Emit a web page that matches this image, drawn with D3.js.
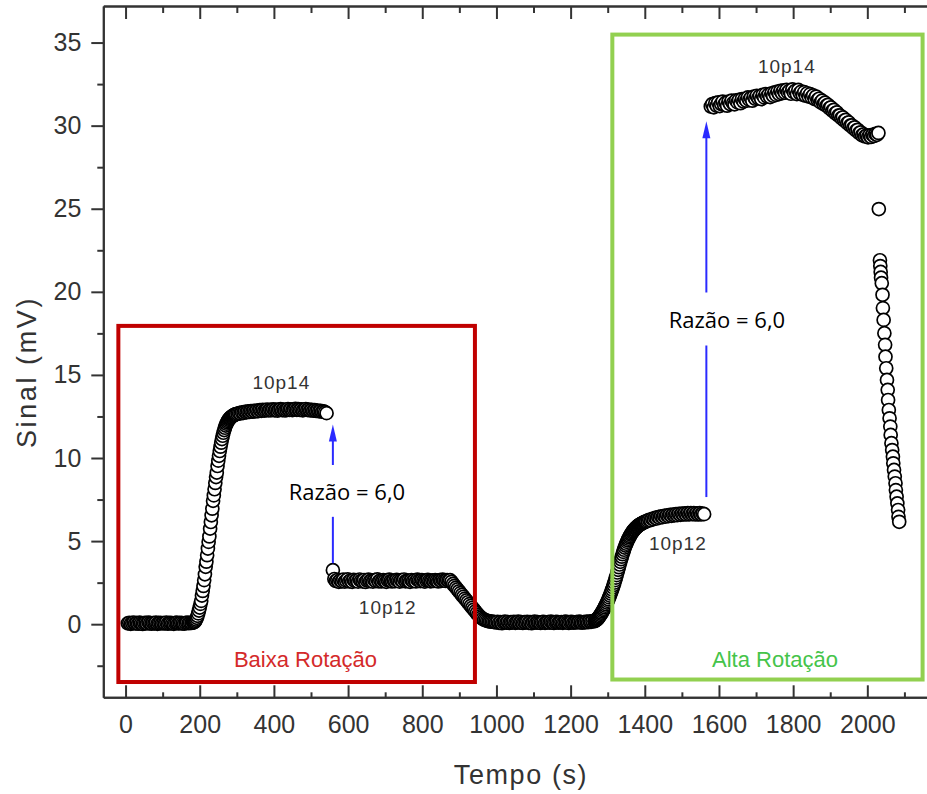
<!DOCTYPE html>
<html><head><meta charset="utf-8">
<script src="https://cdn.jsdelivr.net/npm/d3@7/dist/d3.min.js"></script>
<style>body{margin:0;background:#fff;}svg{display:block;} text{font-family:'Liberation Sans', Arial, sans-serif;}</style>
</head><body><svg id="chart" width="927" height="794"></svg>
<script>
// ---------- data (tempo [s], sinal [mV]) ----------
const baseline1 = [[6,.05],[10,.08],[14,.02],[18,.06],[22,.1],[26,.04],[30,.07],[34,.03],[38,.09],[42,.05],[46,.01],[50,.06],[54,.08],[58,.04],[62,.1],[66,.06],[70,.03],[74,.07],[78,.05],[82,.09],[86,.02],[90,.06],[94,.08],[98,.04],[102,.07],[106,.05],[110,.1],[114,.03],[118,.06],[122,.08],[126,.05],[130,.02],[134,.07],[138,.09],[142,.04],[146,.06],[150,.08],[154,.05],[158,.03],[162,.07],[166,.1],[170,.06],[174,.08],[178,.07],[182,.1]];
const rise1 = [[184,.11],[186,.14],[188,.2],[190,.28],[192,.38],[194,.5],[196,.65],[198,.82],[200,1.0],[202,1.22],[204,1.4],[206,1.72],[208,2.0],[210,2.3],[212,2.65],[214,3.0],[216,3.45],[218,3.76],[220,4.15],[222,4.55],[224,4.95],[226,5.28],[228,5.75],[230,6.15],[232,6.55],[234,6.95],[236,7.42],[238,7.75],[240,8.12],[242,8.5],[244,8.85],[246,9.12],[248,9.52],[250,9.84],[252,10.13],[254,10.42],[256,10.68],[258,10.92],[260,11.14],[262,11.34],[264,11.52],[266,11.68],[268,11.82],[270,11.95],[272,12.06],[274,12.15],[276,12.23],[278,12.3],[280,12.36],[282,12.41],[284,12.45],[286,12.49],[288,12.52],[290,12.55],[292,12.58],[294,12.6],[296,12.62],[298,12.64]];
const plateau14a = [[302,12.66],[306,12.7],[310,12.68],[314,12.74],[318,12.72],[322,12.78],[326,12.75],[330,12.8],[334,12.77],[338,12.82],[342,12.79],[346,12.84],[350,12.8],[354,12.86],[358,12.82],[362,12.88],[366,12.84],[370,12.9],[374,12.85],[378,12.88],[382,12.92],[386,12.86],[390,12.9],[394,12.88],[398,12.93],[402,12.87],[406,12.91],[410,12.85],[414,12.9],[418,12.94],[422,12.88],[426,12.92],[430,12.86],[434,12.9],[438,12.95],[442,12.89],[446,12.93],[450,12.88],[454,12.92],[458,12.96],[462,12.9],[466,12.94],[470,12.89],[474,12.93],[478,12.87],[482,12.91],[486,12.95],[490,12.89],[494,12.92],[498,12.86],[502,12.9],[506,12.85],[510,12.88],[514,12.83],[518,12.86],[522,12.81],[526,12.84],[530,12.79],[534,12.8],[538,12.76],[542,12.7]];
const plateau12a = [[559,3.25],[563,2.72],[567,2.6],[571,2.66],[575,2.55],[579,2.64],[583,2.58],[587,2.68],[591,2.56],[595,2.62],[599,2.7],[603,2.57],[607,2.63],[611,2.55],[615,2.67],[619,2.6],[623,2.64],[627,2.56],[631,2.69],[635,2.61],[639,2.58],[643,2.66],[647,2.54],[651,2.63],[655,2.68],[659,2.59],[663,2.62],[667,2.56],[671,2.65],[675,2.6],[679,2.7],[683,2.57],[687,2.63],[691,2.58],[695,2.66],[699,2.61],[703,2.55],[707,2.64],[711,2.68],[715,2.6],[719,2.57],[723,2.63],[727,2.59],[731,2.67],[735,2.62],[739,2.56],[743,2.65],[747,2.6],[751,2.69],[755,2.58],[759,2.63],[763,2.61],[767,2.55],[771,2.66],[775,2.6],[779,2.64],[783,2.57],[787,2.68],[791,2.62],[795,2.59],[799,2.65],[803,2.6],[807,2.56],[811,2.63],[815,2.67],[819,2.61],[823,2.58],[827,2.64],[831,2.6],[835,2.66],[839,2.62],[843,2.57],[847,2.65],[851,2.61],[855,2.68],[859,2.63],[863,2.6],[867,2.66],[871,2.62],[875,2.65]];
const fall1 = [[879,2.55],[883,2.42],[887,2.31],[891,2.2],[895,2.09],[899,1.98],[903,1.87],[907,1.76],[911,1.65],[915,1.54],[919,1.43],[923,1.32],[927,1.21],[931,1.1],[935,.99],[939,.88],[943,.77],[947,.66],[951,.56],[955,.47],[959,.39],[963,.32],[967,.27],[971,.23],[975,.2],[979,.18],[983,.16],[987,.15],[991,.14],[995,.13]];
const baseline2 = [[999,.1],[1003,.14],[1007,.08],[1011,.12],[1015,.06],[1019,.11],[1023,.15],[1027,.09],[1031,.13],[1035,.07],[1039,.12],[1043,.1],[1047,.14],[1051,.08],[1055,.11],[1059,.15],[1063,.09],[1067,.13],[1071,.07],[1075,.12],[1079,.1],[1083,.14],[1087,.08],[1091,.12],[1095,.06],[1099,.11],[1103,.15],[1107,.09],[1111,.13],[1115,.1],[1119,.07],[1123,.12],[1127,.14],[1131,.08],[1135,.11],[1139,.13],[1143,.09],[1147,.15],[1151,.1],[1155,.07],[1159,.12],[1163,.14],[1167,.09],[1171,.11],[1175,.13],[1179,.08],[1183,.12],[1187,.15],[1191,.1],[1195,.07],[1199,.12],[1203,.14],[1207,.09],[1211,.11],[1215,.13],[1219,.1],[1223,.15],[1227,.12],[1231,.09],[1235,.13],[1239,.11],[1243,.15],[1247,.12],[1251,.16],[1255,.14],[1259,.18]];
const rise2 = [[1264,.18],[1266,.2],[1268,.23],[1270,.27],[1272,.31],[1274,.36],[1276,.42],[1278,.48],[1280,.55],[1282,.62],[1284,.69],[1286,.77],[1288,.85],[1290,.93],[1292,1.02],[1294,1.11],[1296,1.2],[1298,1.3],[1300,1.4],[1302,1.5],[1304,1.61],[1306,1.72],[1308,1.84],[1310,1.96],[1312,2.09],[1314,2.22],[1316,2.36],[1318,2.5],[1320,2.65],[1322,2.8],[1324,2.95],[1326,3.11],[1328,3.27],[1330,3.43],[1332,3.59],[1334,3.75],[1336,3.91],[1338,4.06],[1340,4.21],[1342,4.35],[1344,4.48],[1346,4.61],[1348,4.73],[1350,4.84],[1352,4.95],[1354,5.05],[1356,5.14],[1358,5.23],[1360,5.31],[1362,5.39],[1364,5.46],[1366,5.53],[1368,5.59],[1370,5.65],[1372,5.7],[1374,5.75],[1376,5.8],[1378,5.84],[1380,5.88],[1382,5.92],[1384,5.95],[1386,5.98],[1388,6.01],[1390,6.04],[1392,6.06],[1394,6.09],[1396,6.11],[1398,6.13],[1400,6.15],[1402,6.17],[1404,6.19]];
const plateau12b = [[1408,6.23],[1412,6.28],[1416,6.26],[1420,6.34],[1424,6.32],[1428,6.4],[1432,6.36],[1436,6.45],[1440,6.41],[1444,6.49],[1448,6.44],[1452,6.52],[1456,6.47],[1460,6.55],[1464,6.5],[1468,6.58],[1472,6.52],[1476,6.6],[1480,6.55],[1484,6.62],[1488,6.56],[1492,6.64],[1496,6.58],[1500,6.66],[1504,6.6],[1508,6.67],[1512,6.6],[1516,6.68],[1520,6.61],[1524,6.69],[1528,6.62],[1532,6.68],[1536,6.6],[1540,6.67],[1544,6.61],[1548,6.68],[1552,6.6],[1556,6.66],[1560,6.62]];
const plateau14b = [[1578,31.15],[1582,31.3],[1586,31.1],[1590,31.35],[1594,31.2],[1598,31.4],[1602,31.18],[1606,31.3],[1610,31.45],[1614,31.25],[1618,31.38],[1622,31.2],[1626,31.45],[1630,31.3],[1634,31.5],[1638,31.35],[1642,31.28],[1646,31.52],[1650,31.4],[1654,31.55],[1658,31.35],[1662,31.6],[1666,31.45],[1670,31.62],[1674,31.5],[1678,31.7],[1682,31.55],[1686,31.68],[1690,31.5],[1694,31.75],[1698,31.62],[1702,31.8],[1706,31.65],[1710,31.78],[1714,31.6],[1718,31.85],[1722,31.7],[1726,31.9],[1730,31.75],[1734,31.88],[1738,31.72],[1742,31.95],[1746,31.8],[1750,32.0],[1754,31.85],[1758,32.05],[1762,31.9],[1766,32.1],[1770,31.95],[1774,32.12],[1778,31.98],[1782,32.15],[1786,32.0],[1790,32.1],[1794,31.92],[1798,32.18],[1802,32.0],[1806,32.1],[1810,31.9],[1814,32.15],[1818,31.95],[1822,32.05],[1826,31.85],[1830,32.02],[1834,31.8],[1838,31.95],[1842,31.75],[1846,31.9],[1850,31.7],[1854,31.82],[1858,31.6],[1862,31.75],[1866,31.55],[1870,31.62],[1874,31.4],[1878,31.5],[1882,31.3],[1886,31.38],[1890,31.2],[1894,31.25],[1898,31.05],[1902,31.1],[1906,30.9],[1910,30.95],[1914,30.75],[1918,30.8],[1922,30.6],[1926,30.62],[1930,30.45],[1934,30.5],[1938,30.3],[1942,30.35],[1946,30.15],[1950,30.2],[1954,30.0],[1958,30.02],[1962,29.85],[1966,29.9],[1970,29.7],[1974,29.75],[1978,29.55],[1982,29.6],[1986,29.42],[1990,29.48],[1994,29.35],[1998,29.4],[2002,29.3],[2006,29.42],[2010,29.32],[2014,29.45],[2018,29.38],[2022,29.5],[2026,29.45],[2030,29.56]];
const tail = [[2031,24.98],[2034,21.9],[2035,21.55],[2036,21.2],[2037,20.85],[2039,20.52],[2041,19.82],[2042,19.02],[2044,18.31],[2046,17.51],[2048,16.81],[2049,16.1],[2051,15.4],[2053,14.7],[2055,14.1],[2056,13.49],[2058,12.89],[2060,12.39],[2062,11.89],[2063,11.39],[2065,10.89],[2067,10.48],[2069,10.08],[2070,9.68],[2072,9.28],[2074,8.88],[2076,8.48],[2077,8.07],[2079,7.67],[2081,7.27],[2083,6.87],[2084,6.46],[2086,6.16]];

const xMajorTicks = [0,200,400,600,800,1000,1200,1400,1600,1800,2000];
const xMinorTicks = [100,300,500,700,900,1100,1300,1500,1700,1900,2100];
const yMajorTicks = [0,5,10,15,20,25,30,35];
const yMinorTicks = [-2.5,2.5,7.5,12.5,17.5,22.5,27.5,32.5];
const xTitle = "Tempo (s)";
const yTitle = "Sinal (mV)";

// annotations (data coordinates)
const sampleLabels = [
  {text:"10p14", t:420, v:14.14},
  {text:"10p12", t:707, v:0.64},
  {text:"10p12", t:1489, v:4.46},
  {text:"10p14", t:1783, v:33.17}
];
const ratioArrows = [
  {t:559, from:3.67, to:12.02, gapLow:6.46, gapHigh:9.58, label:"Razão = 6,0", lt:597, lv:7.47},
  {t:1566, from:7.65, to:30.26, gapLow:16.77, gapHigh:19.96, label:"Razão = 6,0", lt:1621.5, lv:17.83}
];
const regions = [
  {label:"Baixa Rotação", t0:-19.4, t1:942, v0:-3.48, v1:17.95, lt:485, lv:-2.6, color:"#c00000", text:"#d42a2a"},
  {label:"Alta Rotação", t0:1312.5, t1:2149, v0:-3.33, v1:35.48, lt:1751, lv:-2.6, color:"#92d050", text:"#45c44a"}
];

// ---------- drawing ----------
const svg = d3.select("#chart");
const x = d3.scaleLinear().domain([-60, 2200]).range([103.3, 941.5]);
const y = d3.scaleLinear().domain([-4.4, 37.2]).range([697.3, 6]);
const axisColor = "#333";

const data = [].concat(baseline1, rise1, plateau14a, plateau12a, fall1, baseline2, rise2, plateau12b, plateau14b, tail);

// points
svg.append("g").selectAll("circle").data(data).join("circle")
  .attr("cx", d => x(d[0])).attr("cy", d => y(d[1])).attr("r", 6.5)
  .attr("fill", "#fff").attr("stroke", "#000").attr("stroke-width", 1.7);

function styleAxis(g) {
  g.selectAll("path").attr("stroke", axisColor).attr("stroke-width", 2);
  g.selectAll("line").attr("stroke", axisColor).attr("stroke-width", 2);
  g.selectAll("text").attr("fill", "#333").attr("font-family", null).attr("font-size", 25);
}

// bottom axis
const gb = svg.append("g").attr("transform", `translate(0,${y(-4.4)})`)
  .call(d3.axisBottom(x).tickValues(xMajorTicks).tickSize(-12).tickSizeOuter(0).tickPadding(18).tickFormat(d3.format("d")));
gb.attr("font-family", null);
styleAxis(gb);
const gbm = svg.append("g").attr("transform", `translate(0,${y(-4.4)})`)
  .call(d3.axisBottom(x).tickValues(xMinorTicks).tickSize(-5).tickSizeOuter(0).tickFormat(""));
styleAxis(gbm);
// top axis
const gt = svg.append("g").attr("transform", `translate(0,${y(37.2)})`)
  .call(d3.axisTop(x).tickValues(xMajorTicks).tickSize(-13).tickSizeOuter(0).tickFormat(""));
styleAxis(gt);
const gtm = svg.append("g").attr("transform", `translate(0,${y(37.2)})`)
  .call(d3.axisTop(x).tickValues(xMinorTicks).tickSize(-7).tickSizeOuter(0).tickFormat(""));
styleAxis(gtm);
// left axis
const gl = svg.append("g").attr("transform", `translate(${x(-60)},0)`)
  .call(d3.axisLeft(y).tickValues(yMajorTicks).tickSize(12).tickSizeOuter(0).tickPadding(10).tickFormat(d3.format("d")));
gl.attr("font-family", null);
styleAxis(gl);
const glm = svg.append("g").attr("transform", `translate(${x(-60)},0)`)
  .call(d3.axisLeft(y).tickValues(yMinorTicks).tickSize(6).tickSizeOuter(0).tickFormat(""));
styleAxis(glm);
// right frame (outside visible area)
svg.append("line").attr("x1", x(2200)).attr("x2", x(2200)).attr("y1", y(37.2)).attr("y2", y(-4.4))
  .attr("stroke", axisColor).attr("stroke-width", 2);

// axis titles
svg.append("text").attr("x", 521).attr("y", 784).attr("text-anchor", "middle")
  .attr("font-size", 27).attr("letter-spacing", 1.6).attr("fill", "#333").text(xTitle);
svg.append("text").attr("transform", "translate(36,372) rotate(-90)").attr("text-anchor", "middle")
  .attr("font-size", 27).attr("letter-spacing", 2.6).attr("fill", "#333").text(yTitle);

// region boxes
regions.forEach(r => {
  svg.append("rect").attr("x", x(r.t0)).attr("y", y(r.v1))
    .attr("width", x(r.t1) - x(r.t0)).attr("height", y(r.v0) - y(r.v1))
    .attr("fill", "none").attr("stroke", r.color).attr("stroke-width", 4);
  svg.append("text").attr("x", x(r.lt)).attr("y", y(r.lv)).attr("text-anchor", "middle")
    .attr("font-size", 22).attr("fill", r.text).text(r.label);
});

// ratio arrows
const blue = "#2a2aff";
ratioArrows.forEach(a => {
  const ax = x(a.t);
  svg.append("line").attr("x1", ax).attr("x2", ax).attr("y1", y(a.from)).attr("y2", y(a.gapLow))
    .attr("stroke", blue).attr("stroke-width", 2);
  svg.append("line").attr("x1", ax).attr("x2", ax).attr("y1", y(a.gapHigh)).attr("y2", y(a.to) + 8)
    .attr("stroke", blue).attr("stroke-width", 2);
  const tip = y(a.to);
  svg.append("path").attr("d", `M${ax},${tip} L${ax - 4},${tip + 17} L${ax + 4},${tip + 17} Z`)
    .attr("fill", blue);
  svg.append("text").attr("x", x(a.lt)).attr("y", y(a.lv)).attr("text-anchor", "middle")
    .style("font-family", "'Open Sans', sans-serif").attr("font-size", 22).attr("fill", "#000").text(a.label);
});

// sample labels
svg.append("g").selectAll("text").data(sampleLabels).join("text")
  .attr("x", d => x(d.t)).attr("y", d => y(d.v)).attr("text-anchor", "middle")
  .attr("font-size", 19).attr("letter-spacing", 1)
  .attr("fill", "#333").text(d => d.text);
</script></body></html>
